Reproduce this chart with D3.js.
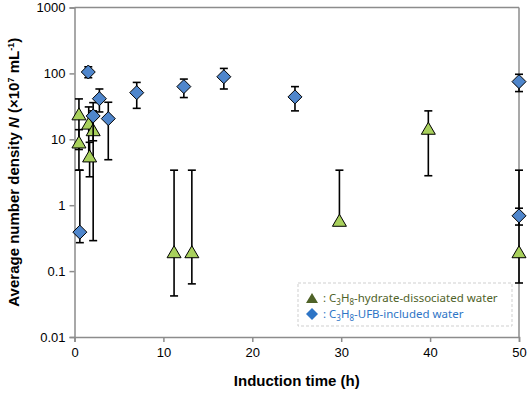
<!DOCTYPE html>
<html>
<head>
<meta charset="utf-8">
<script src="https://cdn.jsdelivr.net/npm/d3@7"></script>
<style>
  body { margin: 0; background: #fff; }
  svg { display: block; }
</style>
</head>
<body>
<div id="chart"></div>
<script>
// C3H8-hydrate-dissociated water (triangles)
const greenTime = [0.5, 0.5, 1.6, 1.7, 2.1, 11.2, 13.2, 29.8, 39.8, 50];
const greenN    = [23.5, 8.8, 17, 5.4, 13.5, 0.19, 0.19, 0.57, 14.2, 0.19];
const greenLo   = [7, 3.4, 5, 2.7, 0.29, 0.042, 0.064, 0.5, 2.8, 0.066];
const greenHi   = [41, 14, 31, 9, 27, 3.4, 3.4, 3.4, 27, 3.4];

// C3H8-UFB-included water (diamonds)
const blueTime = [0.6, 1.55, 2.1, 2.8, 3.8, 7.0, 12.3, 16.8, 24.8, 50, 50];
const blueN    = [0.39, 105, 22.6, 41.3, 20.6, 51, 63, 89, 44, 75, 0.69];
const blueLo   = [0.27, 86, 9.5, 26, 4.9, 29.5, 43, 58, 27, 53, 0.5];
const blueHi   = [3.4, 126, 36, 58, 36.5, 73, 82, 119, 63, 97, 0.9];

const xTicks = [0, 10, 20, 30, 40, 50];
const yTicks = [0.01, 0.1, 1, 10, 100, 1000];

const W = 532, H = 395;
const margin = {top: 7.5, right: 13, bottom: 58, left: 74.5};
const width = W - margin.left - margin.right,
    height = H - margin.top - margin.bottom;

const axisCol = "#8c8c8c";
const font = "'Liberation Sans', Arial, sans-serif";

const svg = d3.select("#chart").append("svg")
    .attr("width", W)
    .attr("height", H);

const g = svg.append("g")
    .attr("transform", "translate(" + margin.left + "," + margin.top + ")");

const x = d3.scaleLinear().domain([0, 50]).range([0, width]);
const y = d3.scaleLog().domain([0.01, 1000]).range([height, 0]);

// frame top / right
g.append("line").attr("x1", 0).attr("x2", width).attr("y1", 0).attr("y2", 0)
    .attr("stroke", axisCol).attr("stroke-width", 1.5);
g.append("line").attr("x1", width).attr("x2", width).attr("y1", 0).attr("y2", height)
    .attr("stroke", axisCol).attr("stroke-width", 1.5);

const xAxis = g.append("g")
    .attr("transform", "translate(0," + height + ")")
    .call(d3.axisBottom(x).tickValues(xTicks).tickSize(5).tickPadding(6).tickFormat(d3.format("d")));

const yAxis = g.append("g")
    .call(d3.axisLeft(y).tickValues(yTicks).tickSize(5).tickPadding(4).tickFormat(d => String(d)));

[xAxis, yAxis].forEach(a => {
    a.select(".domain").attr("stroke", axisCol).attr("stroke-width", 1.5);
    a.selectAll(".tick line").attr("stroke", axisCol).attr("stroke-width", 1.5);
    a.selectAll(".tick text")
        .style("font-family", font)
        .style("font-size", "13px")
        .attr("fill", "#000");
});

// error bars + markers
const greenData = greenTime.map((t, i) => ({t, n: greenN[i], lo: greenLo[i], hi: greenHi[i]}));
const blueData = blueTime.map((t, i) => ({t, n: blueN[i], lo: blueLo[i], hi: blueHi[i]}));

function errorBars(data, cls) {
    const eb = g.selectAll("." + cls)
        .data(data)
        .join("g")
        .attr("class", cls)
        .attr("stroke", "#000")
        .attr("stroke-width", 1.6);
    eb.append("line")
        .attr("x1", d => x(d.t)).attr("x2", d => x(d.t))
        .attr("y1", d => y(d.lo)).attr("y2", d => y(d.hi));
    eb.append("line")
        .attr("x1", d => x(d.t) - 4).attr("x2", d => x(d.t) + 4)
        .attr("y1", d => y(d.lo)).attr("y2", d => y(d.lo));
    eb.append("line")
        .attr("x1", d => x(d.t) - 4).attr("x2", d => x(d.t) + 4)
        .attr("y1", d => y(d.hi)).attr("y2", d => y(d.hi));
}

errorBars(greenData, "green-eb");

g.selectAll(".tri")
    .data(greenData)
    .join("path")
    .attr("class", "tri")
    .attr("d", "M0,-7L7,5L-7,5Z")
    .attr("transform", d => "translate(" + x(d.t) + "," + y(d.n) + ")")
    .attr("fill", "#a8d05c")
    .attr("stroke", "#000")
    .attr("stroke-width", 1);

errorBars(blueData, "blue-eb");

g.selectAll(".dia")
    .data(blueData)
    .join("path")
    .attr("class", "dia")
    .attr("d", "M0,-7L7,0L0,7L-7,0Z")
    .attr("transform", d => "translate(" + x(d.t) + "," + y(d.n) + ")")
    .attr("fill", "#4f86cc")
    .attr("stroke", "#000")
    .attr("stroke-width", 1);

// legend
const lg = svg.append("g").attr("transform", "translate(298,283)");
lg.append("rect")
    .attr("width", 214).attr("height", 43)
    .attr("fill", "#fff")
    .attr("stroke", "#cfcfcf")
    .attr("stroke-dasharray", "3,2");

const legendItems = [
    {shape: "M0,-6L6,4L-6,4Z", fill: "#4f6228", label: "hydrate-dissociated water"},
    {shape: "M0,-6L6,0L0,6L-6,0Z", fill: "#2e75c6", label: "UFB-included water"}
];

legendItems.forEach((d, i) => {
    const yy = 15 + i * 16;
    lg.append("path").attr("d", d.shape)
        .attr("transform", "translate(14," + (yy + (i === 0 ? 1 : 0)) + ")")
        .attr("fill", d.fill);
    const t = lg.append("text")
        .attr("x", 25).attr("y", yy + 4)
        .style("font-family", "'Noto Sans', sans-serif")
        .style("font-size", "11.5px")
        .attr("fill", d.fill);
    t.append("tspan").text(": C");
    t.append("tspan").attr("dy", 3).style("font-size", "8px").text("3");
    t.append("tspan").attr("dy", -3).text("H");
    t.append("tspan").attr("dy", 3).style("font-size", "8px").text("8");
    t.append("tspan").attr("dy", -3).text("-" + d.label);
});

// axis titles
svg.append("text")
    .attr("x", margin.left + width / 2)
    .attr("y", 386)
    .attr("text-anchor", "middle")
    .style("font-family", font)
    .style("font-size", "15px")
    .style("font-weight", "bold")
    .text("Induction time (h)");

const yt = svg.append("text")
    .attr("transform", "translate(19," + (margin.top + height / 2) + ") rotate(-90)")
    .attr("text-anchor", "middle")
    .style("font-family", font)
    .style("font-size", "15px")
    .style("font-weight", "bold");
yt.append("tspan").text("Average number density ");
yt.append("tspan").style("font-style", "italic").text("N");
yt.append("tspan").text(" (×10");
yt.append("tspan").attr("dy", -5).style("font-size", "9px").text("7");
yt.append("tspan").attr("dy", 5).text(" mL");
yt.append("tspan").attr("dy", -5).style("font-size", "9px").text("-1");
yt.append("tspan").attr("dy", 5).text(")");
</script>
</body>
</html>
